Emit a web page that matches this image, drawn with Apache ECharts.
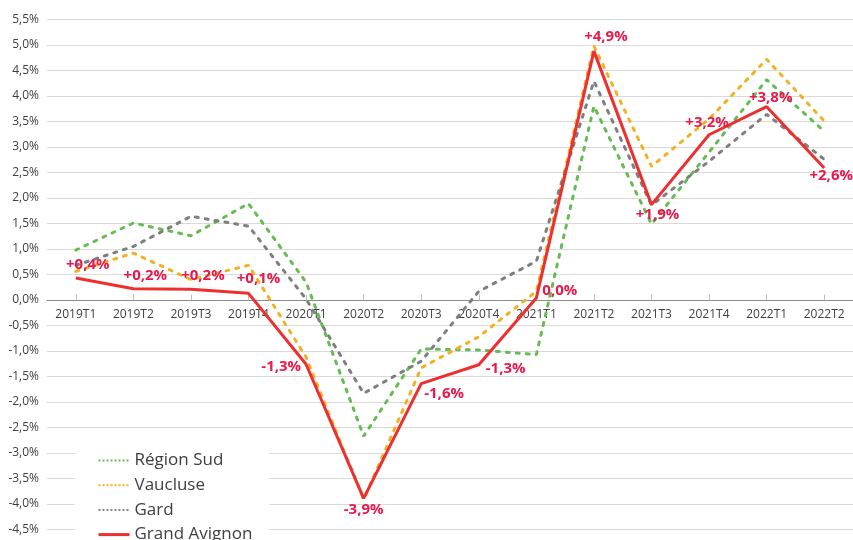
<!DOCTYPE html>
<html>
<head>
<meta charset="utf-8">
<script src="https://cdn.jsdelivr.net/npm/echarts@6/dist/echarts.min.js"></script>
<style>
html,body{margin:0;padding:0;background:#fff;}
#chart{width:853px;height:540px;}
</style>
</head>
<body>
<div id="chart"></div>
<script>
const categories = ['2019T1','2019T2','2019T3','2019T4','2020T1','2020T2','2020T3','2020T4','2021T1','2021T2','2021T3','2021T4','2022T1','2022T2'];
const regionSud    = [0.98, 1.51, 1.26, 1.89, 0.35, -2.67, -0.96, -0.98, -1.07, 3.80, 1.49, 2.90, 4.32, 3.31];
const vaucluse     = [0.56, 0.92, 0.40, 0.68, -1.12, -3.91, -1.33, -0.72, 0.17, 4.98, 2.62, 3.55, 4.72, 3.51];
const gard         = [0.68, 1.05, 1.64, 1.45, 0.02, -1.83, -1.20, 0.17, 0.76, 4.29, 1.86, 2.72, 3.64, 2.76];
const grandAvignon = [0.43, 0.22, 0.21, 0.13, -1.26, -3.89, -1.64, -1.27, 0.04, 4.88, 1.87, 3.24, 3.79, 2.59];
const yTicks = {min: -4.5, max: 5.5, interval: 0.5};

// label placement for the Grand Avignon labels (layout only)
const labelPlace = [
  {position:'top', shift:[12,-1]},
  {position:'top', shift:[12,-1]},
  {position:'top', shift:[12,-1]},
  {position:'top', shift:[10,-2]},
  {position:'left', shift:[0,2]},
  {position:'bottom', shift:[0,-1]},
  {position:'right', shift:[-2,10]},
  {position:'right', shift:[2,4]},
  {position:'right', shift:[1,-7]},
  {position:'top', shift:[12,-2]},
  {position:'bottom', shift:[6,-2]},
  {position:'top', shift:[-2,0]},
  {position:'top', shift:[4,4]},
  {position:'bottom', shift:[7,-5]}
];

const FONT = '"Open Sans", "Noto Sans", sans-serif';
function fmtPct(v){
  const r = Math.round(v*10)/10;
  let s = Math.abs(r).toFixed(1).replace('.', ',') + '%';
  if (r > 0) return '+' + s;
  if (r < 0) return '-' + s;
  return s;
}

const dotted = (color) => ({color: color, width: 3, type: [3, 7], cap: 'round'});

const chart = echarts.init(document.getElementById('chart'), null, {renderer: 'canvas'});
chart.setOption({
  animation: false,
  backgroundColor: '#ffffff',
  grid: {left: 47, right: 0, top: 19.5, bottom: 10.5, containLabel: false, outerBoundsMode: 'none'},
  legend: {
    orient: 'vertical',
    left: 75, top: 441, height: 140,
    backgroundColor: '#ffffff',
    padding: [11, 17, 2, 22],
    itemWidth: 31, itemHeight: 14, itemGap: 7.7,
    itemTextGap: 8,
    itemStyle: {opacity: 0},
    textStyle: {fontFamily: FONT, fontSize: 17, color: '#404040'},
    data: [
      {name: 'Région Sud', lineStyle: {width: 2, type: [2, 2], cap: 'butt'}},
      {name: 'Vaucluse', lineStyle: {width: 2, type: [2, 2], cap: 'butt'}},
      {name: 'Gard', lineStyle: {width: 2, type: [2, 2], cap: 'butt'}},
      {name: 'Grand Avignon', lineStyle: {width: 3}}
    ]
  },
  xAxis: {
    type: 'category',
    data: categories,
    boundaryGap: true,
    position: 'bottom',
    offset: -229,
    axisLine: {onZero: false, lineStyle: {color: '#8c8c8c', width: 1}},
    axisTick: {show: true, inside: true, length: 6, alignWithLabel: true, lineStyle: {color: '#bfbfbf'}},
    axisLabel: {fontFamily: FONT, fontSize: 12, color: '#404040', margin: 8, interval: 0},
    splitLine: {show: false}
  },
  yAxis: {
    type: 'value',
    min: yTicks.min, max: yTicks.max, interval: yTicks.interval,
    axisLine: {show: false},
    axisTick: {show: false},
    axisLabel: {fontFamily: FONT, fontSize: 12, color: '#404040', margin: 8,
      formatter: (v) => v.toFixed(1).replace('.', ',') + '%'},
    splitLine: {lineStyle: {color: '#d9d9d9', width: 1}}
  },
  series: [
    {name: 'Région Sud', type: 'line', data: regionSud, symbol: 'none', lineStyle: dotted('#66bb55'), itemStyle: {color: '#66bb55'}, z: 2},
    {name: 'Vaucluse', type: 'line', data: vaucluse, symbol: 'none', lineStyle: dotted('#f2b124'), itemStyle: {color: '#f2b124'}, z: 3},
    {name: 'Gard', type: 'line', data: gard, symbol: 'none', lineStyle: dotted('#7f7f7f'), itemStyle: {color: '#7f7f7f'}, z: 4},
    {name: 'Grand Avignon', type: 'line', symbol: 'circle', symbolSize: 0, showSymbol: true, z: 5,
      lineStyle: {color: '#ee2f2f', width: 3}, itemStyle: {color: '#e8194b'},
      data: grandAvignon.map((v, i) => ({
        value: v,
        label: {show: true, position: labelPlace[i].position, distance: 5}
      })),
      label: {show: true, fontFamily: FONT, fontSize: 15, fontWeight: 'bold', color: '#e8194b',
        formatter: (p) => fmtPct(p.value)},
      labelLayout: (p) => ({dx: labelPlace[p.dataIndex].shift[0], dy: labelPlace[p.dataIndex].shift[1], hideOverlap: false})
    }
  ]
});
</script>
</body>
</html>
